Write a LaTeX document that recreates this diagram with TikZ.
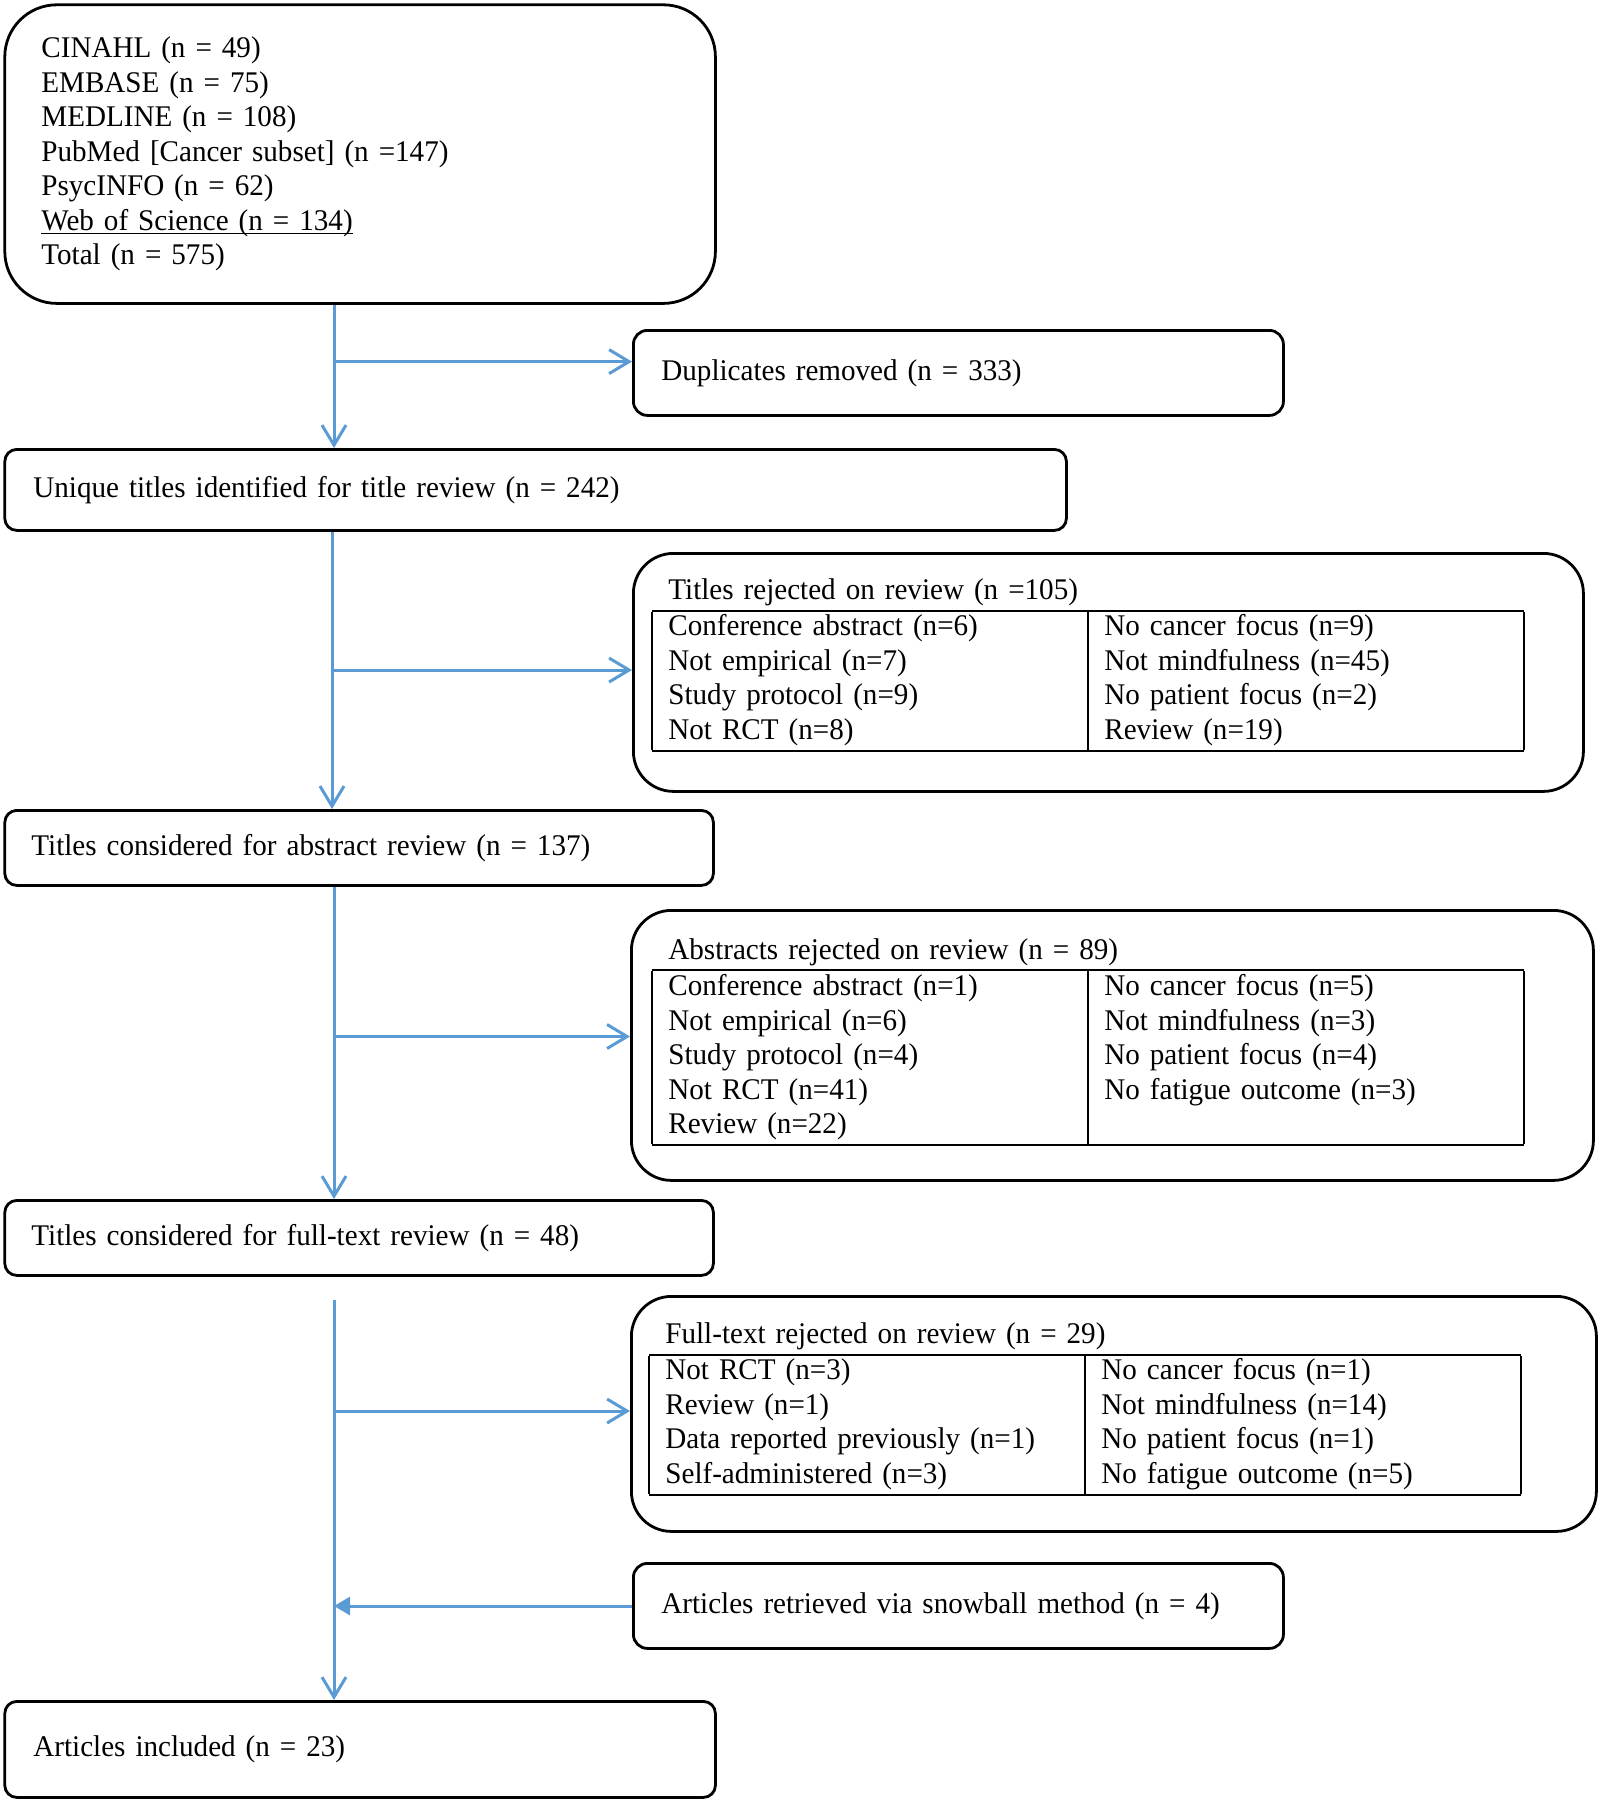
\documentclass[tikz,border=0pt]{standalone}
\usepackage{fontspec}
\setmainfont[FakeStretch=0.97]{Liberation Serif}
\usepackage{tikz}
\usepackage{xcolor}
\usetikzlibrary{arrows.meta,positioning,calc}
\definecolor{flowblue}{RGB}{91,155,213}
\setlength\arrayrulewidth{1pt}
\setlength\tabcolsep{8pt}
\newcommand\liftup[2]{\raisebox{0pt}[\height][\dimexpr\depth+#1\relax]{#2}}
\newcommand\underbase[1]{\leavevmode\setbox0\hbox{#1}\rlap{\rule[-2pt]{\wd0}{0.9pt}}\box0}
\newcommand\flowfont{\fontsize{15pt}{17.25pt}\selectfont}

\begin{document}
\begin{tikzpicture}[x=1pt,y=-1pt,
  every node/.style={font=\flowfont},
  stage/.style={draw, line width=1.4pt, rounded corners=6pt, anchor=north west, align=left, inner ysep=0pt},
  flow/.style={flowblue, line width=1.5pt, -{Straight Barb[length=10pt,width=12pt]}},
  back/.style={flowblue, line width=1.5pt, -{Triangle[length=8pt,width=9pt]}}]
\useasboundingbox (0,0) rectangle (800,900);

% Main stages
\node[stage, rounded corners=26pt, text width=318.7pt, inner xsep=18.3pt, minimum height=149.3pt] (src) at (1.7,1.7)
  {CINAHL (n = 49)\\ EMBASE (n = 75)\\ MEDLINE (n = 108)\\ PubMed [Cancer subset] (n =147)\\ PsycINFO (n = 62)\\ \underbase{Web of Science (n = 134)}\\ Total (n = 575)};
\node[stage, text width=502.2pt, inner xsep=14.3pt, minimum height=40.5pt] (uniq) at (1.7,224) {Unique titles identified for title review (n = 242)};
\node[stage, text width=327.7pt, inner xsep=13.3pt, minimum height=37.5pt] (abstr) at (1.7,404.5) {Titles considered for abstract review (n = 137)};
\node[stage, text width=327.7pt, inner xsep=13.3pt, minimum height=37.5pt] (fulltxt) at (1.7,599.5) {Titles considered for full-text review (n = 48)};
\node[stage, text width=326.7pt, inner xsep=14.3pt, minimum height=48pt] (incl) at (1.7,850) {Articles included (n = 23)};

% Side boxes
\node[stage, rounded corners=7pt, text width=297pt, inner xsep=14pt, minimum height=42.5pt] (dup) at (316,164.5) {Duplicates removed (n = 333)};
\node[stage, rounded corners=20pt, text width=456pt, inner xsep=9.5pt, minimum height=119pt] (rejtitle) at (316,276)
  {\liftup{9pt}{\begin{tabular}{|p{202pt}|p{202pt}|}
  \multicolumn{2}{l}{Titles rejected on review (n =105)}\\ \hline
  Conference abstract (n=6) & No cancer focus (n=9)\\
  Not empirical (n=7) & Not mindfulness (n=45)\\
  Study protocol (n=9) & No patient focus (n=2)\\
  Not RCT (n=8) & Review (n=19)\\ \hline
  \end{tabular}}};
\node[stage, rounded corners=20pt, text width=460pt, inner xsep=10.5pt, minimum height=135pt] (rejabs) at (315,454.5)
  {\liftup{5pt}{\begin{tabular}{|p{202pt}|p{202pt}|}
  \multicolumn{2}{l}{Abstracts rejected on review (n = 89)}\\ \hline
  Conference abstract (n=1) & No cancer focus (n=5)\\
  Not empirical (n=6) & Not mindfulness (n=3)\\
  Study protocol (n=4) & No patient focus (n=4)\\
  Not RCT (n=41) & No fatigue outcome (n=3)\\
  Review (n=22) & \\ \hline
  \end{tabular}}};
\node[stage, rounded corners=20pt, text width=464.5pt, inner xsep=9pt, minimum height=117.5pt] (rejfull) at (315,647.5)
  {\liftup{6.5pt}{\begin{tabular}{|p{202pt}|p{202pt}|}
  \multicolumn{2}{l}{Full-text rejected on review (n = 29)}\\ \hline
  Not RCT (n=3) & No cancer focus (n=1)\\
  Review (n=1) & Not mindfulness (n=14)\\
  Data reported previously (n=1) & No patient focus (n=1)\\
  Self-administered (n=3) & No fatigue outcome (n=5)\\ \hline
  \end{tabular}}};
\node[stage, rounded corners=7pt, text width=297pt, inner xsep=14pt, minimum height=42.5pt] (snow) at (316,781) {Articles retrieved via snowball method (n = 4)};

% Branch points
\coordinate (b1) at (167,180.8);
\coordinate (b2) at (166,335);
\coordinate (b3) at (167,518.25);
\coordinate (t4) at (167,650);
\coordinate (b4) at (167,705.5);
\coordinate (b5) at (167,803);

% Arrows
\draw[flow] (src.south -| b1) -- (uniq.north -| b1);
\draw[flow] (b1) -- (b1 -| dup.west);
\draw[flow] (uniq.south -| b2) -- (abstr.north -| b2);
\draw[flow] (b2) -- (b2 -| rejtitle.west);
\draw[flow] (abstr.south -| b3) -- (fulltxt.north -| b3);
\draw[flow] (b3) -- (b3 -| rejabs.west);
\draw[flow] (t4) -- (incl.north -| t4);
\draw[flow] (b4) -- (b4 -| rejfull.west);
\draw[back] (b5 -| snow.west) -- (b5);
\end{tikzpicture}
\end{document}
